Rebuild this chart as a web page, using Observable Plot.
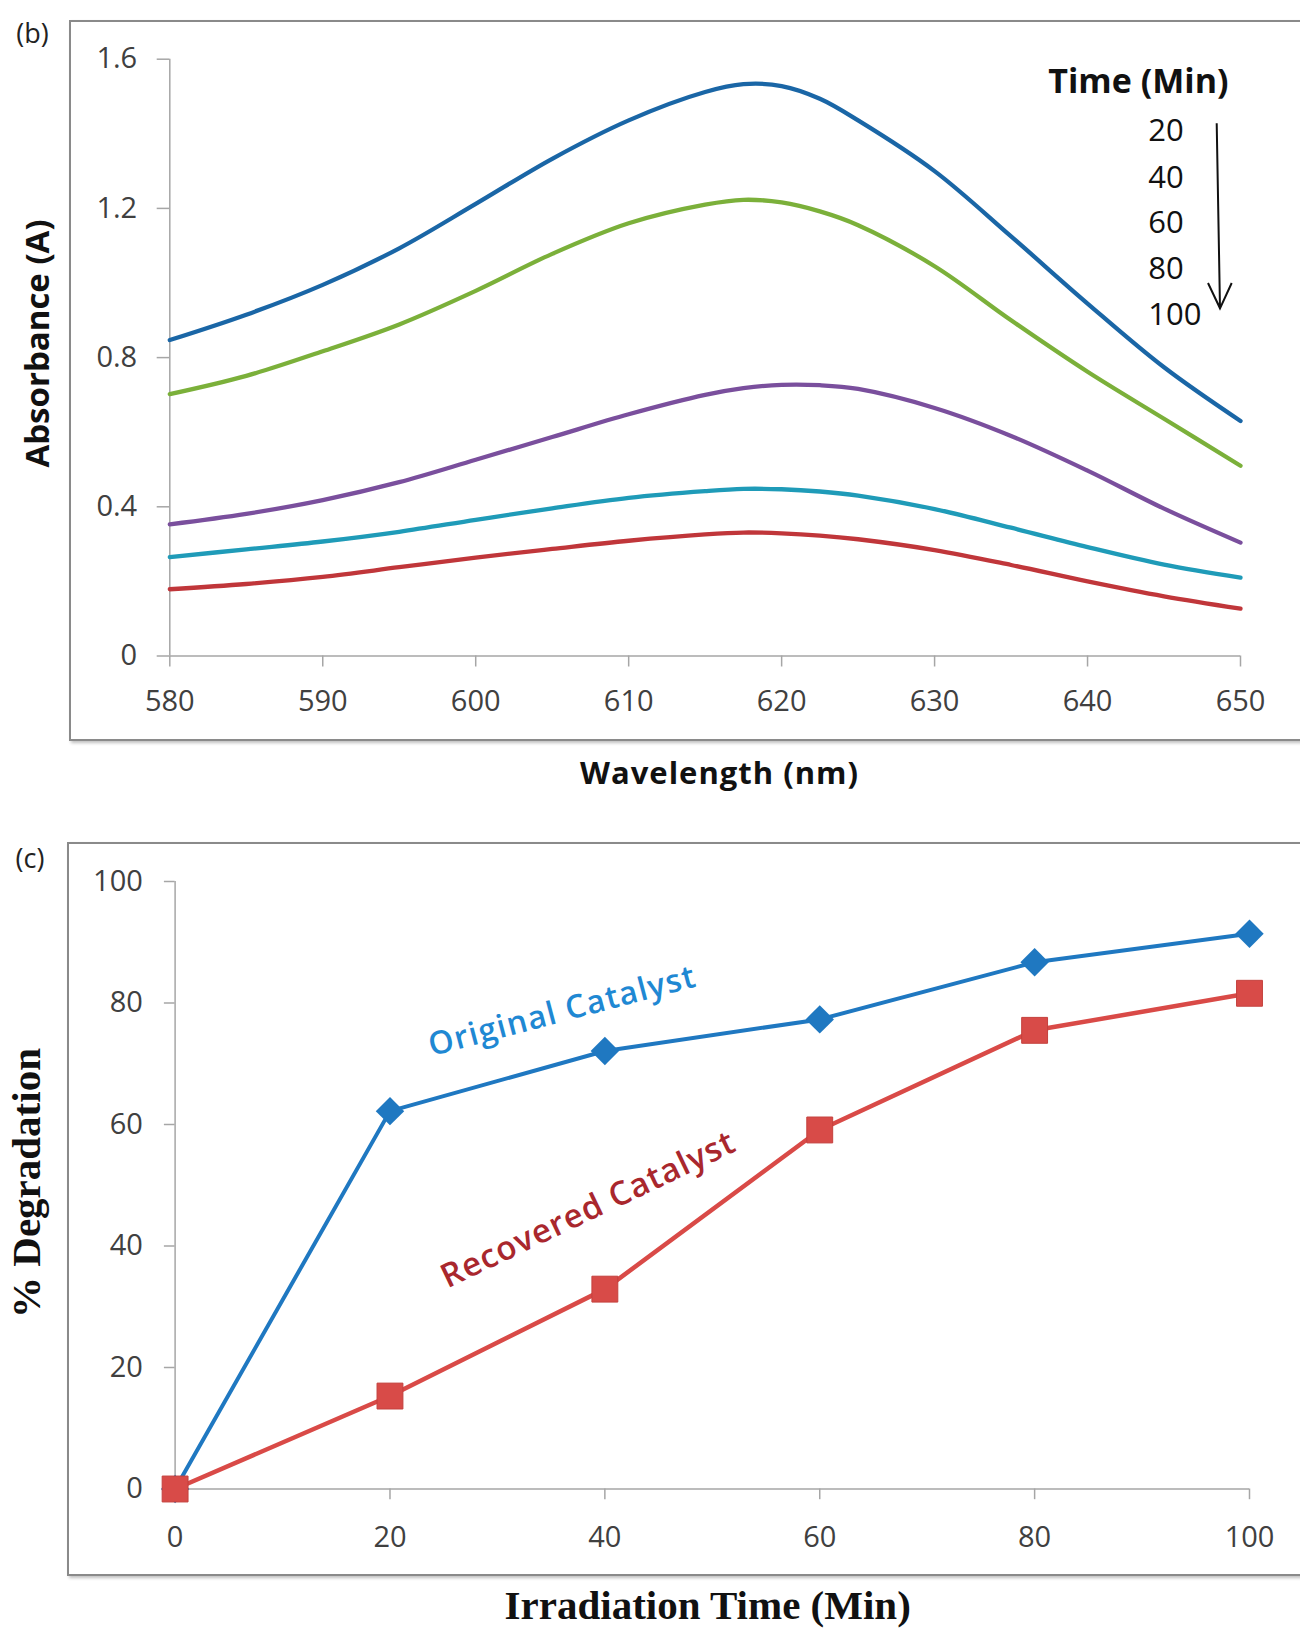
<!DOCTYPE html>
<html>
<head>
<meta charset="utf-8">
<script src="https://cdn.jsdelivr.net/npm/d3@7"></script>
<script src="https://cdn.jsdelivr.net/npm/@observablehq/plot@0.6"></script>
<style>
  html, body { margin: 0; padding: 0; background: #fff; overflow: hidden; }
  #root { position: relative; width: 1300px; height: 1630px; overflow: hidden; font-family: "Open Sans", sans-serif; }
  .frame { position: absolute; box-sizing: border-box; border: 2.5px solid #8a8a8a; border-right: none; box-shadow: 2px 2px 3px rgba(0,0,0,0.25); }
  .chart { position: absolute; left: 0; }
  #overlay { position: absolute; left: 0; top: 0; pointer-events: none; }
</style>
</head>
<body>
<div id="root">
  <div class="frame" style="left:69px; top:19.5px; width:1300px; height:721.7px;"></div>
  <div class="frame" style="left:66.5px; top:841.5px; width:1300px; height:734px;"></div>
  <div id="chartB" class="chart" style="top:0px;"></div>
  <div id="chartC" class="chart" style="top:820px;"></div>
</div>
<script>
// ---------- Panel (b): UV-Vis absorbance spectra ----------
const wavelengths = [580, 585, 590, 595, 600, 605, 610, 615, 617.5, 620, 622.5, 625, 630, 635, 640, 645, 650];
const abs20  = [0.847, 0.915, 0.995, 1.093, 1.212, 1.333, 1.436, 1.512, 1.533, 1.528, 1.494, 1.436, 1.300, 1.125, 0.945, 0.774, 0.630];
const abs40  = [0.702, 0.751, 0.817, 0.889, 0.979, 1.078, 1.160, 1.210, 1.223, 1.216, 1.192, 1.155, 1.045, 0.900, 0.762, 0.636, 0.510];
const abs60  = [0.353, 0.381, 0.418, 0.466, 0.526, 0.587, 0.648, 0.700, 0.718, 0.727, 0.726, 0.716, 0.665, 0.590, 0.497, 0.395, 0.304];
const abs80  = [0.265, 0.286, 0.307, 0.333, 0.365, 0.396, 0.424, 0.442, 0.448, 0.447, 0.441, 0.430, 0.394, 0.344, 0.292, 0.245, 0.210];
const abs100 = [0.179, 0.193, 0.212, 0.238, 0.264, 0.287, 0.309, 0.326, 0.331, 0.329, 0.323, 0.313, 0.284, 0.244, 0.200, 0.160, 0.127];
const timeLabels = ["20", "40", "60", "80", "100"];
const spectraColors = ["#1a66a6", "#7bb03a", "#7a4f9d", "#1f9bb8", "#c0363a"];
const absTicks = [0, 0.4, 0.8, 1.2, 1.6];
const wlTicks = [580, 590, 600, 610, 620, 630, 640, 650];

// ---------- Panel (c): % degradation ----------
const irrTimes = [0, 20, 40, 60, 80, 100];
const originalDeg = [0, 62.2, 72.1, 77.3, 86.7, 91.4];
const recoveredDeg = [0, 15.3, 32.9, 59.1, 75.5, 81.6];
const degTicks = [0, 20, 40, 60, 80, 100];
const timeTicks = [0, 20, 40, 60, 80, 100];

const spectraSeries = [abs20, abs40, abs60, abs80, abs100];
const spectra = spectraSeries.flatMap((arr, i) =>
  arr.map((a, j) => ({wl: wavelengths[j], a, t: timeLabels[i]})));

const axisGray = "#a6a6a6";
const labelColor = "#404040";

const chartB = Plot.plot({
  width: 1300,
  height: 760,
  marginTop: 58.7,
  marginBottom: 104.5,
  marginLeft: 169.3,
  marginRight: 60,
  style: {fontFamily: "Open Sans", fontSize: "29px", background: "transparent", overflow: "visible"},
  x: {domain: [580, 650], axis: null},
  y: {domain: [0, 1.6], axis: null},
  color: {domain: timeLabels, range: spectraColors},
  marks: [
    Plot.ruleY([0], {stroke: axisGray, strokeWidth: 1.5}),
    Plot.ruleX([580], {stroke: axisGray, strokeWidth: 1.5}),
    Plot.axisY({ticks: absTicks, tickFormat: d => String(d), tickSize: 12.6, tickPadding: 20, color: labelColor, stroke: axisGray, strokeWidth: 1.5, fontSize: 29, label: null}),
    Plot.axisX({ticks: wlTicks, tickSize: 11, tickPadding: 23, color: labelColor, stroke: axisGray, strokeWidth: 1.5, fontSize: 29, label: null}),
    Plot.line(spectra, {x: "wl", y: "a", z: "t", stroke: "t", strokeWidth: 4.3, curve: "catmull-rom"})
  ]
});
document.getElementById("chartB").appendChild(chartB);

const degData = irrTimes.map((t, i) => ({t, orig: originalDeg[i], rec: recoveredDeg[i]}));

const chartC = Plot.plot({
  width: 1300,
  height: 810,
  marginTop: 61,
  marginBottom: 141.5,
  marginLeft: 174.6,
  marginRight: 51,
  style: {fontFamily: "Open Sans", fontSize: "29px", background: "transparent", overflow: "visible"},
  x: {domain: [0, 100], axis: null},
  y: {domain: [0, 100], axis: null},
  marks: [
    Plot.ruleY([0], {stroke: axisGray, strokeWidth: 1.5}),
    Plot.ruleX([0], {stroke: axisGray, strokeWidth: 1.5}),
    Plot.axisY({ticks: degTicks, tickSize: 10.7, tickPadding: 21.6, color: labelColor, stroke: axisGray, strokeWidth: 1.5, fontSize: 29, label: null}),
    Plot.axisX({ticks: timeTicks, tickSize: 10.7, tickPadding: 27, color: labelColor, stroke: axisGray, strokeWidth: 1.5, fontSize: 29, label: null}),
    Plot.line(degData, {x: "t", y: "orig", stroke: "#1f78c1", strokeWidth: 4}),
    Plot.dot(degData, {x: "t", y: "orig", symbol: "diamond2", r: 12.8, fill: "#1f78c1", stroke: "none"}),
    Plot.line(degData, {x: "t", y: "rec", stroke: "#d94a47", strokeWidth: 4.5}),
    Plot.dot(degData, {x: "t", y: "rec", symbol: "square", r: 14.6, fill: "#d84b48", stroke: "#c4403d", strokeWidth: 1})
  ]
});
document.getElementById("chartC").appendChild(chartC);

// ---------- Annotations overlay ----------
const ns = "http://www.w3.org/2000/svg";
const overlay = document.createElementNS(ns, "svg");
overlay.setAttribute("id", "overlay");
overlay.setAttribute("width", 1300);
overlay.setAttribute("height", 1630);
document.getElementById("root").appendChild(overlay);

function addText(str, attrs, transform) {
  const t = document.createElementNS(ns, "text");
  t.textContent = str;
  for (const k in attrs) t.setAttribute(k, attrs[k]);
  if (transform) t.setAttribute("transform", transform);
  overlay.appendChild(t);
  return t;
}
const sans = "Open Sans, sans-serif";
const serif = "Liberation Serif, Times New Roman, serif";

addText("(b)", {x: 0, y: 0, "font-family": sans, "font-size": 27, fill: "#222", "text-anchor": "middle"}, "translate(32.5,43)");
addText("(c)", {x: 0, y: 0, "font-family": sans, "font-size": 27, fill: "#222", "text-anchor": "middle"}, "translate(30,868)");

addText("Absorbance (A)", {x: 0, y: 0, "font-family": sans, "font-size": 33, "font-weight": 700, fill: "#111", "text-anchor": "middle"}, "translate(49,343.5) rotate(-90)");
addText("Wavelength (nm)", {x: 0, y: 0, "font-family": sans, "font-size": 31, "font-weight": 700, fill: "#111", "text-anchor": "middle", "letter-spacing": 1}, "translate(719.5,784)");

addText("Time (Min)", {x: 0, y: 0, "font-family": sans, "font-size": 34, "font-weight": 700, fill: "#111", "text-anchor": "start"}, "translate(1048.3,93.3)");
const legendBaselines = [140.5, 188.2, 233.3, 278.7, 325];
timeLabels.forEach((s, i) => {
  addText(s, {x: 0, y: 0, "font-family": sans, "font-size": 31, fill: "#111", "text-anchor": "start"}, `translate(1148.3,${legendBaselines[i]})`);
});
const arrowPath = document.createElementNS(ns, "path");
arrowPath.setAttribute("d", "M1216.7,123.3 L1220,308.3 M1208,283 L1220,308.3 L1231.7,283");
arrowPath.setAttribute("stroke", "#111");
arrowPath.setAttribute("stroke-width", 2);
arrowPath.setAttribute("fill", "none");
overlay.appendChild(arrowPath);

addText("% Degradation", {x: 0, y: 0, "font-family": serif, "font-size": 41, "font-weight": 700, fill: "#111", "text-anchor": "middle"}, "translate(40,1183) rotate(-90)");
addText("Irradiation Time (Min)", {x: 0, y: 0, "font-family": serif, "font-size": 41, "font-weight": 700, fill: "#111", "text-anchor": "middle"}, "translate(707.7,1619)");

addText("Original Catalyst", {x: 0, y: 0, "font-family": sans, "font-size": 32, "font-weight": 600, fill: "#1f88d3", "text-anchor": "middle", "dominant-baseline": "central", "letter-spacing": 1.2}, "translate(561.7,1009) rotate(-14.8)");
addText("Recovered Catalyst", {x: 0, y: 0, "font-family": sans, "font-size": 33, "font-weight": 600, fill: "#a9272d", "text-anchor": "middle", "dominant-baseline": "central", "letter-spacing": 1}, "translate(587.5,1208) rotate(-25.5)");
</script>
</body>
</html>
